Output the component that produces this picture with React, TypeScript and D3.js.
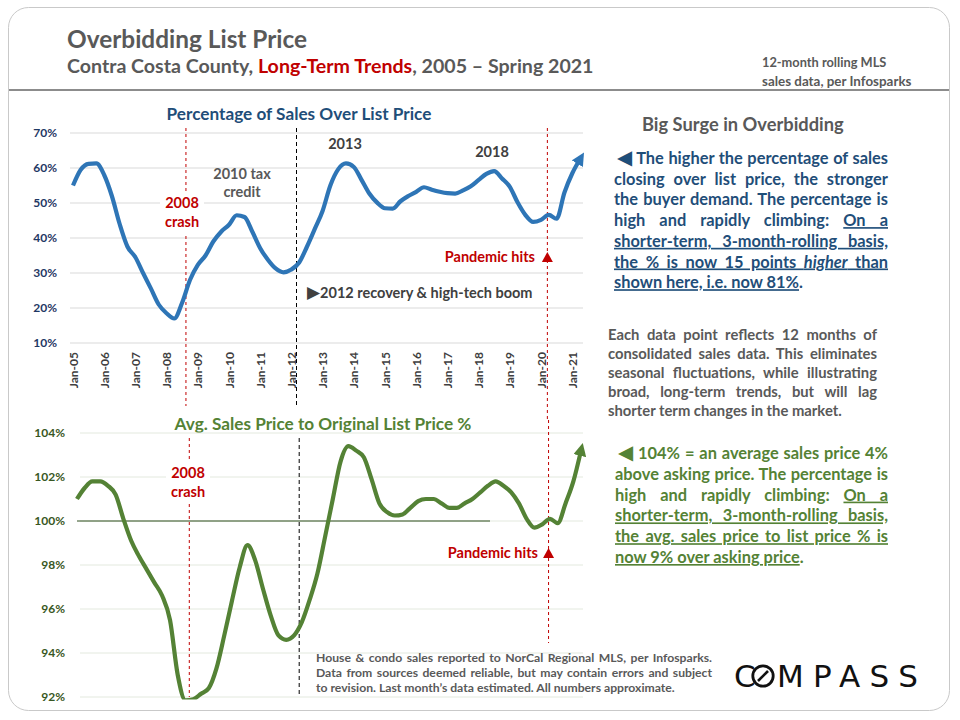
import React, { useEffect, useRef } from 'react';
import * as d3 from 'd3';

// quarterly readings (Jan / Apr / Jul / Oct), Jan 2005 – Apr 2021
const firstMonth = new Date(2005, 0, 1);
const lastMonth = new Date(2021, 3, 1);

// % of sales closing over list price (12-month rolling)
const overListPct = [
  55, 59.5, 61.2, 61.3, 58, 52, 44, 37.5, 34.5, 30, 25.6, 21, 18.5, 17, 21.5, 28,
  32.3, 35, 39, 41.8, 43.8, 46.5, 46, 41.8, 37.1, 33.8, 31.3, 30.2, 31, 33, 37.5, 42.6,
  47.8, 55, 59.6, 61.3, 60.3, 56.6, 52.7, 50.1, 48.5, 48.4, 50.5, 52, 53.2, 54.5, 53.8, 53.2,
  52.8, 52.7, 53.6, 54.8, 56.6, 58.3, 59.1, 57, 54.6, 50.2, 46.6, 44.6, 45.2, 46.6, 45.5, 53,
  58.5, 62.5,
];

// avg. sales price to original list price %
const saleToListPct = [
  101.0, 101.5, 101.8, 101.8, 101.6, 101.2, 100.1, 99.1, 98.4, 97.8, 97.2, 96.6, 95.5, 93.0, 91.85, 91.9,
  92.15, 92.4, 93.3, 94.8, 96.4, 97.9, 98.9, 98.2, 96.9, 95.7, 94.8, 94.6, 94.8, 95.4, 96.4, 97.6,
  99.3, 101.0, 102.7, 103.4, 103.2, 102.9, 101.9, 100.8, 100.4, 100.25, 100.3, 100.6, 100.9, 101.0, 101.0, 100.8,
  100.6, 100.6, 100.8, 101.0, 101.3, 101.6, 101.8, 101.6, 101.3, 100.8, 100.1, 99.7, 99.85, 100.1, 99.9, 100.8,
  101.8, 103.2,
];

const overTicks = [10, 20, 30, 40, 50, 60, 70];
const ratioTicks = [92, 94, 96, 98, 100, 102, 104];

const crashDate = new Date(2008, 7, 15);
const recoveryDate = new Date(2012, 2, 1);
const pandemicDate = new Date(2020, 2, 15);

type Seg = { s: string; u?: boolean; i?: boolean; sym?: boolean };

const blueNote: Seg[][] = [
  [{ s: '◀', sym: true }, { s: ' The higher the percentage of sales' }],
  [{ s: 'closing over list price, the stronger' }],
  [{ s: 'the buyer demand. The percentage is' }],
  [{ s: 'high and rapidly climbing: ' }, { s: 'On a', u: true }],
  [{ s: 'shorter-term, 3-month-rolling basis,', u: true }],
  [{ s: 'the % is now 15 points ', u: true }, { s: 'higher', u: true, i: true }, { s: ' than', u: true }],
  [{ s: 'shown here, i.e. now 81%', u: true }, { s: '.' }],
];

const grayNote: Seg[][] = [
  [{ s: 'Each data point reflects 12 months of' }],
  [{ s: 'consolidated sales data. This eliminates' }],
  [{ s: 'seasonal fluctuations, while illustrating' }],
  [{ s: 'broad, long-term trends, but will lag' }],
  [{ s: 'shorter term changes in the market.' }],
];

const greenNote: Seg[][] = [
  [{ s: '◀', sym: true }, { s: ' 104% = an average sales price 4%' }],
  [{ s: 'above asking price. The percentage is' }],
  [{ s: 'high and rapidly climbing: ' }, { s: 'On a', u: true }],
  [{ s: 'shorter-term, 3-month-rolling basis,', u: true }],
  [{ s: 'the avg. sales price to list price % is', u: true }],
  [{ s: 'now 9% over asking price', u: true }, { s: '.' }],
];

const footNote = [
  'House & condo sales reported to NorCal Regional MLS, per Infosparks.',
  'Data from sources deemed reliable, but may contain errors and subject',
  'to revision. Last month’s data estimated. All numbers approximate.',
];

const FONT = "Lato, 'Open Sans', sans-serif";
const SYM = "'DejaVu Sans', sans-serif";
const RED = '#C00000';
const BLUE = '#2E75B6';
const NAVY = '#1F4E79';
const GREEN = '#548235';
const GRAY = '#595959';

interface ParaProps {
  lines: Seg[][];
  x: number;
  x2: number;
  y0: number;
  dy: number;
  size: number;
  color: string;
  indent?: number;
}

const Para: React.FC<ParaProps> = ({ lines, x, x2, y0, dy, size, color, indent = 0 }) => (
  <g fontFamily={FONT} fontWeight="bold" fontSize={size} fill={color}>
    {lines.map((segs, k) => {
      const left = x + (k === 0 ? indent : 0);
      const last = k === lines.length - 1;
      return (
        <text key={k} x={left} y={y0 + k * dy} className={last ? undefined : 'justify'} data-width={x2 - left}>
          {segs.map((g, j) => (
            <tspan
              key={j}
              fontFamily={g.sym ? SYM : undefined}
              fontSize={g.sym ? size * 1.2 : undefined}
              style={{ textDecoration: g.u ? 'underline' : 'none', fontStyle: g.i ? 'italic' : 'normal' }}
            >
              {g.s}
            </tspan>
          ))}
        </text>
      );
    })}
  </g>
);

const App: React.FC = () => {
  const svgRef = useRef<SVGSVGElement>(null);

  const quarters = overListPct.map((_, i) => d3.timeMonth.offset(firstMonth, i * 3));

  const xTop = d3.scaleTime().domain([firstMonth, lastMonth]).range([73, 580]);
  const yTop = d3.scaleLinear().domain([10, 70]).range([343, 133]);
  const xBot = d3.scaleTime().domain([firstMonth, lastMonth]).range([77, 581]);
  const yBot = d3.scaleLinear().domain([92, 104]).range([697, 433]);

  const topLine = d3.line<number>()
    .x((_, i) => xTop(quarters[i]))
    .y((d) => yTop(d))
    .curve(d3.curveMonotoneX);
  const botLine = d3.line<number>()
    .x((_, i) => xBot(quarters[i]))
    .y((d) => yBot(d))
    .curve(d3.curveMonotoneX);

  const years = xTop.ticks(d3.timeYear.every(1)!);
  const fmt = d3.timeFormat('%b-%y');

  // justify paragraph lines by spreading the word gaps
  useEffect(() => {
    const justify = () => {
      if (!svgRef.current) return;
      d3.select(svgRef.current)
        .selectAll<SVGTextElement, unknown>('text.justify')
        .each(function () {
          const el = d3.select(this);
          el.style('word-spacing', '0px');
          const target = +(el.attr('data-width') || 0);
          const gaps = ((this.textContent || '').match(/ /g) || []).length;
          if (!gaps) return;
          const natural = this.getComputedTextLength();
          el.style('word-spacing', `${(target - natural) / gaps}px`);
        });
    };
    justify();
    document.fonts?.ready.then(justify);
  }, []);

  const xc = xTop(crashDate);
  const xr = xTop(recoveryDate);
  const xp = xTop(pandemicDate);
  const bc = xBot(crashDate);
  const br = xBot(recoveryDate);
  const bp = xBot(pandemicDate);

  return (
    <svg
      ref={svgRef}
      width={960}
      height={720}
      style={{ position: 'absolute', left: 0, top: 0, background: '#fff' }}
      fontFamily={FONT}
    >
      <defs>
        <marker id="arrowBlue" viewBox="0 0 10 10" refX="4" refY="5" markerWidth="13" markerHeight="13"
          markerUnits="userSpaceOnUse" orient="auto">
          <path d="M0,0 L10,5 L0,10 Z" fill={BLUE} />
        </marker>
        <marker id="arrowGreen" viewBox="0 0 10 10" refX="4" refY="5" markerWidth="13" markerHeight="13"
          markerUnits="userSpaceOnUse" orient="auto">
          <path d="M0,0 L10,5 L0,10 Z" fill={GREEN} />
        </marker>
        <clipPath id="botClip">
          <rect x={60} y={410} width={560} height={289.5} />
        </clipPath>
      </defs>

      {/* card */}
      <rect x={8.5} y={7.5} width={941} height={703} rx={20} fill="#fff" stroke="#C9C9C9" />

      {/* header */}
      <text x={67} y={48} fontSize={24.4} fontWeight="bold" fill={GRAY}>Overbidding List Price</text>
      <text x={67} y={73} fontSize={19.6} fontWeight="bold" fill={GRAY}>
        Contra Costa County, <tspan fill={RED}>Long-Term Trends</tspan>, 2005 – Spring 2021
      </text>
      <text x={762} y={67} fontSize={12.8} fontWeight="bold" fill={GRAY}>12-month rolling MLS</text>
      <text x={762} y={86} fontSize={13.4} fontWeight="bold" fill={GRAY}>sales data, per Infosparks</text>
      <line x1={9} x2={949} y1={90} y2={90} stroke="#8C8C8C" strokeWidth={2} />

      {/* ---------- top chart ---------- */}
      <text x={299} y={120} textAnchor="middle" fontSize={17.2} fontWeight="bold" fill={NAVY}>
        Percentage of Sales Over List Price
      </text>
      {overTicks.map((t) => (
        <g key={t}>
          <line x1={70} x2={583} y1={yTop(t)} y2={yTop(t)} stroke="#D9D9D9" />
          <text x={57} y={yTop(t) + 4} textAnchor="end" fontSize={12} fontWeight="bold" fill="#1F3864">
            {t}%
          </text>
        </g>
      ))}
      {years.map((d) => (
        <text key={+d} transform={`translate(${xTop(d) + 4.5},352) rotate(-90)`} textAnchor="end"
          fontSize={12} fontWeight="bold" fill="#404040">
          {fmt(d)}
        </text>
      ))}

      <line x1={xc} x2={xc} y1={128} y2={406} stroke={RED} strokeDasharray="3 3" />
      <line x1={xr} x2={xr} y1={128} y2={406} stroke="#000" strokeDasharray="4 3" />
      <line x1={xp} x2={xp} y1={128} y2={420} stroke={RED} strokeDasharray="3 3" />

      <path d={topLine(overListPct) || ''} fill="none" stroke={BLUE} strokeWidth={4.2}
        strokeLinejoin="round" markerEnd="url(#arrowBlue)" />

      <rect x={160} y={194} width={44} height={40} fill="#fff" />
      <g fontSize={14.5} fontWeight="bold" textAnchor="middle">
        <text x={182} y={208} fill={RED}>2008</text>
        <text x={182} y={227} fill={RED}>crash</text>
        <text x={242} y={179} fill={GRAY}>2010 tax</text>
        <text x={242} y={197} fill={GRAY}>credit</text>
        <text x={345} y={149} fill="#404040">2013</text>
        <text x={492} y={157} fill="#404040">2018</text>
      </g>
      <text x={535} y={262} textAnchor="end" fontSize={14.5} fontWeight="bold" fill={RED}>Pandemic hits</text>
      <path d={`M${xp - 5.5},262 L${xp},252 L${xp + 5.5},262 Z`} fill={RED} />
      <text x={307} y={298} fontSize={14.5} fontWeight="bold" fill="#404040">
        <tspan fontFamily={SYM} fontSize={17}>▶</tspan>2012 recovery &amp; high-tech boom
      </text>

      {/* ---------- bottom chart ---------- */}
      <text x={323} y={430} textAnchor="middle" fontSize={17.2} fontWeight="bold" fill={GREEN}>
        Avg. Sales Price to Original List Price %
      </text>
      {ratioTicks.map((t) => (
        <g key={t}>
          <line x1={80} x2={583} y1={yBot(t)} y2={yBot(t)} stroke="#E3E9DE" />
          <text x={65} y={yBot(t) + 4} textAnchor="end" fontSize={12} fontWeight="bold" fill="#385723">
            {t}%
          </text>
        </g>
      ))}
      <line x1={77} x2={490} y1={yBot(100)} y2={yBot(100)} stroke="#2F4F1F" strokeWidth={1} />

      <line x1={bc} x2={bc} y1={438} y2={697} stroke={RED} strokeDasharray="3 3" />
      <line x1={br} x2={br} y1={438} y2={697} stroke="#000" strokeDasharray="4 3" />
      <line x1={bp} x2={bp} y1={420} y2={643} stroke={RED} strokeDasharray="3 3" />

      <g clipPath="url(#botClip)">
        <path d={botLine(saleToListPct) || ''} fill="none" stroke={GREEN} strokeWidth={4.2}
          strokeLinejoin="round" markerEnd="url(#arrowGreen)" />
      </g>

      <rect x={166} y={462} width={44} height={41} fill="#fff" />
      <g fontSize={14.5} fontWeight="bold" textAnchor="middle" fill={RED}>
        <text x={188} y={478}>2008</text>
        <text x={188} y={497}>crash</text>
      </g>
      <text x={538} y={558} textAnchor="end" fontSize={14.5} fontWeight="bold" fill={RED}>Pandemic hits</text>
      <path d={`M${bp - 5.5},558 L${bp},548 L${bp + 5.5},558 Z`} fill={RED} />

      <g fontSize={12.2} fontWeight="bold" fill={GRAY}>
        {footNote.map((s, i) => (
          <text key={i} x={316} y={662 + i * 15} className={i < 2 ? 'justify' : undefined} data-width={396}>
            {s}
          </text>
        ))}
      </g>

      {/* ---------- right column ---------- */}
      <text x={642} y={131} fontSize={18.3} fontWeight="bold" fill={GRAY}>Big Surge in Overbidding</text>
      <Para lines={blueNote} x={614} x2={888} y0={164} dy={20.7} size={16.4} color={NAVY} indent={3} />
      <Para lines={grayNote} x={608} x2={877} y0={340} dy={19} size={14.8} color={GRAY} />
      <Para lines={greenNote} x={615} x2={888} y0={459} dy={20.8} size={16.4} color={GREEN} indent={3} />

      {/* logo */}
      <g fill="#111" fontSize={31} fontFamily={SYM}>
        <text x={734} y={687}>C</text>
        <circle cx={763} cy={676} r={10.2} fill="none" stroke="#111" strokeWidth={2.8} />
        <line x1={758} y1={681} x2={768} y2={671} stroke="#111" strokeWidth={2.6} />
        <text x={777} y={687} textLength={141} lengthAdjust="spacing">MPASS</text>
      </g>
    </svg>
  );
};

export default App;
